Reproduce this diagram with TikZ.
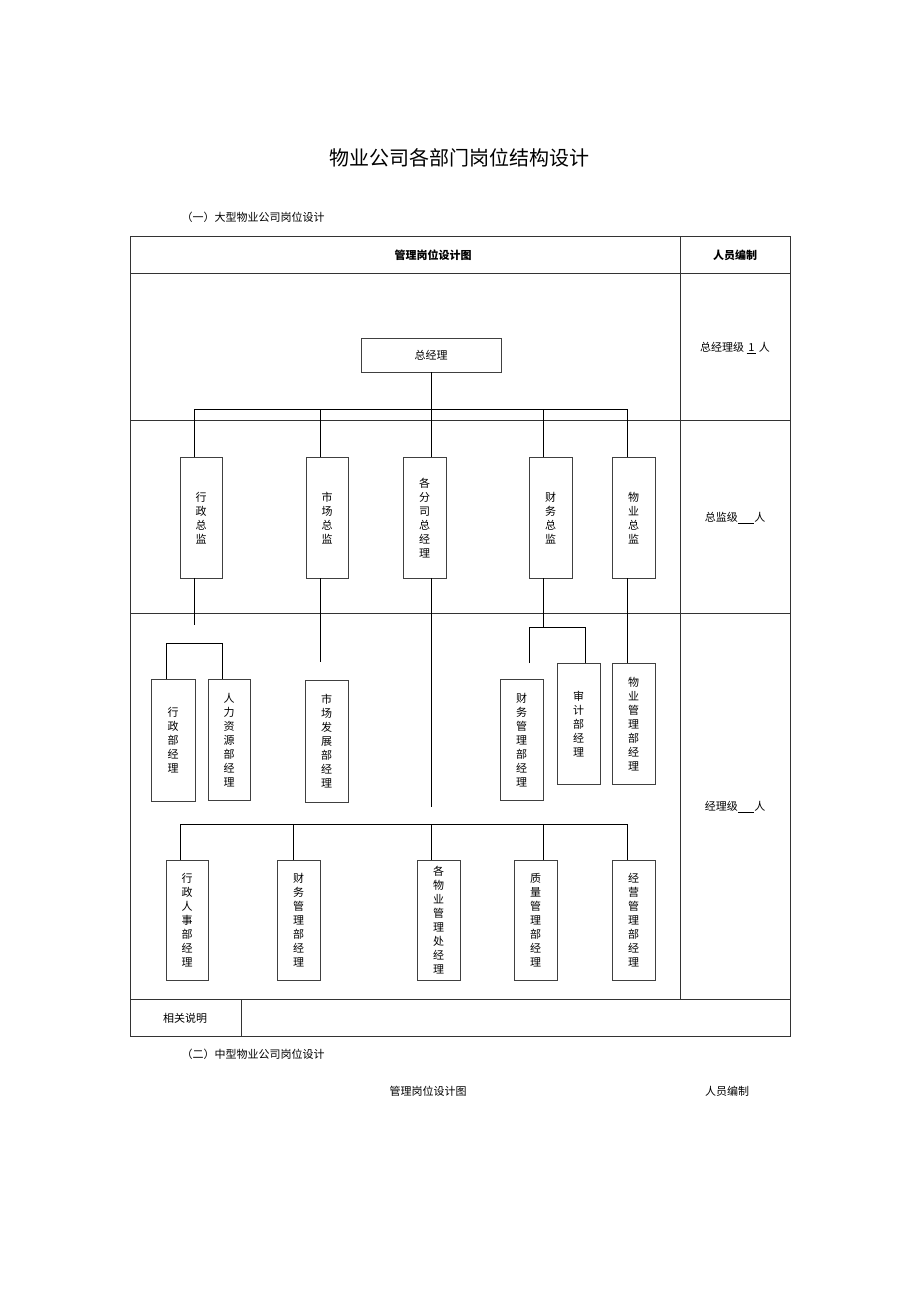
\documentclass[tikz,border=0pt]{standalone}
\usepackage{fontspec}
\setmainfont{Noto Sans CJK SC}
\begin{document}
\begin{tikzpicture}[x=1pt,y=-1pt,
    vbox/.style={draw=black!75, inner sep=0pt, font=\fontsize{11}{14}\selectfont, align=center, anchor=north west},
    cell/.style={font=\fontsize{11}{13}\selectfont},
    link/.style={line width=0.8pt}
  ]
  \useasboundingbox (0,0) rectangle (920,1301);
  % titles
  \node[font=\fontsize{20}{24}\selectfont] (title) at (459,158) {物业公司各部门岗位结构设计};
  \node[cell, anchor=west] (sec1) at (178,217) {（一）大型物业公司岗位设计};
  \node[cell, anchor=west] (sec2) at (178,1054) {（二）中型物业公司岗位设计};
  \node[cell] (h2a) at (428,1091) {管理岗位设计图};
  \node[cell] (h2b) at (727,1091) {人员编制};
  % table
  \draw[black!80] (130,236) rectangle (790,1036);
  \draw[black!80] (680,236) -- (680,999);
  \foreach \yy in {273,420,613,999} \draw[black!80] (130,\yy) -- (790,\yy);
  \draw[black!80] (241,999) -- (241,1036);
  \node[cell, font=\bfseries\fontsize{11}{13}\selectfont] (hdr1) at (433,255) {管理岗位设计图};
  \node[cell, font=\bfseries\fontsize{11}{13}\selectfont] (hdr2) at (735,255) {人员编制};
  \node[cell] (n1) at (735,348) {总经理级 \underline{\,1\,} 人};
  \node[cell] (n2) at (735,518) {总监级\underline{\hspace{1.5em}}人};
  \node[cell] (n3) at (735,807) {经理级\underline{\hspace{1.5em}}人};
  \node[cell] (note) at (185,1018) {相关说明};
  % top
  \node[vbox, minimum width=140, minimum height=34, anchor=center] (gm) at (431,355) {总经理};
  \node[vbox, minimum width=42, minimum height=121] (d1) at (180,457) {行\\政\\总\\监};
  \node[vbox, minimum width=42, minimum height=121] (d2) at (306,457) {市\\场\\总\\监};
  \node[vbox, minimum width=43, minimum height=121] (d3) at (403,457) {各\\分\\司\\总\\经\\理};
  \node[vbox, minimum width=43, minimum height=121] (d4) at (529,457) {财\\务\\总\\监};
  \node[vbox, minimum width=43, minimum height=121] (d5) at (612,457) {物\\业\\总\\监};
  \draw[link] (gm.south) -- (431,409);
  \draw[link] (194,409) -- (627,409);
  \foreach \xx/\dd in {194/d1,320/d2,431/d3,543/d4,627/d5} \draw[link] (\xx,409) -- (\dd.north -| \xx,0);
  % manager level
  \node[vbox, minimum width=44, minimum height=122] (m1) at (151,679) {行\\政\\部\\经\\理};
  \node[vbox, minimum width=42, minimum height=121] (m2) at (208,679) {人\\力\\资\\源\\部\\经\\理};
  \node[vbox, minimum width=43, minimum height=122] (m3) at (305,680) {市\\场\\发\\展\\部\\经\\理};
  \node[vbox, minimum width=43, minimum height=121] (m4) at (500,679) {财\\务\\管\\理\\部\\经\\理};
  \node[vbox, minimum width=43, minimum height=121] (m5) at (557,663) {审\\计\\部\\经\\理};
  \node[vbox, minimum width=43, minimum height=121] (m6) at (612,663) {物\\业\\管\\理\\部\\经\\理};
  \draw[link] (d1.south -| 194,0) -- (194,625);
  \draw[link] (m1.north -| 166,0) -- (166,643) -- (222,643) -- (m2.north -| 222,0);
  \draw[link] (d2.south -| 320,0) -- (320,662);
  \draw[link] (d4.south -| 543,0) -- (543,627);
  \draw[link] (529,663) -- (529,627) -- (585,627) -- (m5.north -| 585,0);
  \draw[link] (d5.south -| 627,0) -- (m6.north -| 627,0);
  \draw[link] (d3.south -| 431,0) -- (431,807);
  % branch level
  \draw[link] (180,824) -- (627,824);
  \node[vbox, minimum width=42, minimum height=120] (b1) at (166,860) {行\\政\\人\\事\\部\\经\\理};
  \node[vbox, minimum width=43, minimum height=120] (b2) at (277,860) {财\\务\\管\\理\\部\\经\\理};
  \node[vbox, minimum width=43, minimum height=120] (b3) at (417,860) {各\\物\\业\\管\\理\\处\\经\\理};
  \node[vbox, minimum width=43, minimum height=120] (b4) at (514,860) {质\\量\\管\\理\\部\\经\\理};
  \node[vbox, minimum width=43, minimum height=120] (b5) at (612,860) {经\\营\\管\\理\\部\\经\\理};
  \foreach \xx/\bb in {180/b1,293/b2,431/b3,543/b4,627/b5} \draw[link] (\xx,824) -- (\bb.north -| \xx,0);
\end{tikzpicture}
\end{document}
